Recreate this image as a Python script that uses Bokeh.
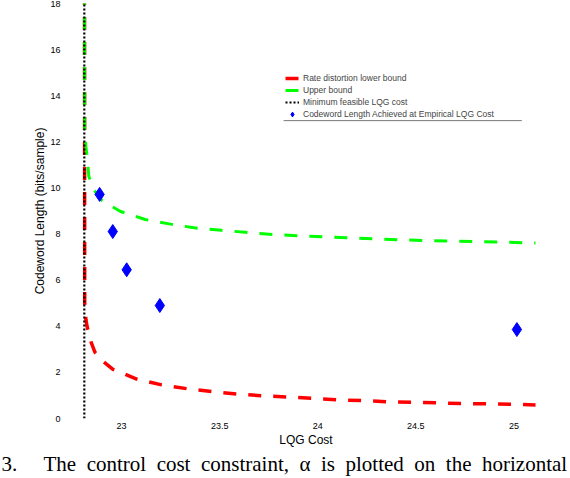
from bokeh.plotting import figure
from bokeh.models import FixedTicker, BoxAnnotation, Legend, LegendItem, Range1d, Title
from bokeh.embed import file_html
from bokeh.resources import INLINE

# ---- data ----
lqg_min = 22.81

upper_x = [22.811, 22.812, 22.818, 22.825, 22.833, 22.86, 22.90, 22.95, 22.995, 23.06, 23.12,
           23.25, 23.37, 23.51, 23.63, 23.77, 23.90, 24.03, 24.16, 24.29, 24.42, 24.55,
           24.68, 24.81, 24.94, 25.07, 25.11]
upper_y = [18.5, 12.5, 11.8, 11.3, 10.5, 9.9, 9.46, 9.2, 8.98, 8.8, 8.63,
           8.43, 8.27, 8.16, 8.08, 7.98, 7.93, 7.88, 7.84, 7.79, 7.75, 7.72,
           7.70, 7.67, 7.65, 7.62, 7.61]

lower_x = [22.811, 22.812, 22.818, 22.825, 22.845, 22.864, 22.91, 22.956, 23.077, 23.204,
           23.335, 23.46, 23.59, 23.73, 23.85, 23.98, 24.11, 24.24, 24.37, 24.50,
           24.64, 24.76, 24.89, 25.02, 25.11]
lower_y = [18.5, 5.0, 4.3, 3.96, 3.3, 2.88, 2.45, 2.13, 1.71, 1.46,
           1.29, 1.17, 1.06, 0.98, 0.93, 0.87, 0.81, 0.77, 0.72, 0.70,
           0.67, 0.65, 0.63, 0.61, 0.59]

min_x = [lqg_min, lqg_min]
min_y = [0, 18.5]

emp_x = [22.888, 22.955, 23.026, 23.195, 25.015]
emp_y = [9.72, 8.11, 6.45, 4.90, 3.86]

x_ticks = [23, 23.5, 24, 24.5, 25]
y_ticks = [0, 2, 4, 6, 8, 10, 12, 14, 16, 18]

legend_labels = ["Rate distortion lower bound", "Upper bound",
                 "Minimum feasible LQG cost",
                 "Codeword Length Achieved at Empirical LQG Cost"]

caption_words = ["The", "control", "cost", "constraint,", "\u03b1", "is", "plotted",
                 "on", "the", "horizontal"]
caption_num = "3."

FONT = "Liberation Sans"

p = figure(width=570, height=478, output_backend="svg", toolbar_location=None,
           x_range=Range1d(22.76, 25.12), y_range=Range1d(0, 18),
           min_border_left=74, min_border_right=33, min_border_top=3,
           min_border_bottom=60)
p.outline_line_color = None
p.xgrid.visible = False
p.ygrid.visible = False
p.background_fill_color = "white"

r_low = p.line(lower_x, lower_y, line_color="#ff0000", line_width=3.5, line_dash="13 12")
r_up = p.line(upper_x, upper_y, line_color="#00ff00", line_width=3, line_dash="13 12")
r_min = p.line(min_x, min_y, line_color="black", line_width=2.2, line_dash="2 2")
r_emp = p.scatter(emp_x, emp_y, marker="diamond", size=14, fill_color="#0000ff",
                  line_color="#0000ff")

for ax in (p.xaxis[0], p.yaxis[0]):
    ax.axis_line_color = None
    ax.major_tick_line_color = None
    ax.minor_tick_line_color = None
    ax.major_tick_out = 0
    ax.major_tick_in = 0
    ax.major_label_text_font = FONT
    ax.major_label_text_font_size = "9px"
    ax.major_label_text_color = "black"
    ax.axis_label_text_font = FONT
    ax.axis_label_text_font_size = "12px"
    ax.axis_label_text_font_style = "normal"
    ax.axis_label_text_color = "black"

p.xaxis.ticker = FixedTicker(ticks=x_ticks)
p.yaxis.ticker = FixedTicker(ticks=y_ticks)
p.xaxis.axis_label = "LQG Cost"
p.yaxis.axis_label = "Codeword Length (bits/sample)"
p.xaxis.major_label_standoff = 4
p.xaxis.axis_label_standoff = 1
p.yaxis.major_label_standoff = 14
p.yaxis.axis_label_standoff = 0

legend = Legend(items=[
    LegendItem(label=legend_labels[0], renderers=[r_low]),
    LegendItem(label=legend_labels[1], renderers=[r_up]),
    LegendItem(label=legend_labels[2], renderers=[r_min]),
    LegendItem(label=legend_labels[3], renderers=[r_emp]),
], location=(211, 298))
legend.border_line_color = None
legend.background_fill_alpha = 0
legend.label_text_font = FONT
legend.label_text_font_size = "8.5px"
legend.label_height = 12
legend.glyph_height = 12
legend.glyph_width = 14
legend.label_standoff = 4
legend.spacing = 0
legend.padding = 2
legend.margin = 0
p.add_layout(legend, "center")

underline = BoxAnnotation(left=23.826, right=25.04, top=12.92, bottom=12.92,
                          fill_alpha=0, line_color="black", line_width=1)
p.add_layout(underline)

gap = "\u00a0\u00a0"
caption = caption_num + "\u00a0" * 5 + gap.join(caption_words)
p.add_layout(Title(text=caption, align="left", offset=-73, standoff=0,
                   text_font="Liberation Serif", text_font_size="21px",
                   text_font_style="normal", text_color="black"), "below")

open("out.html", "w").write(file_html(p, INLINE))
